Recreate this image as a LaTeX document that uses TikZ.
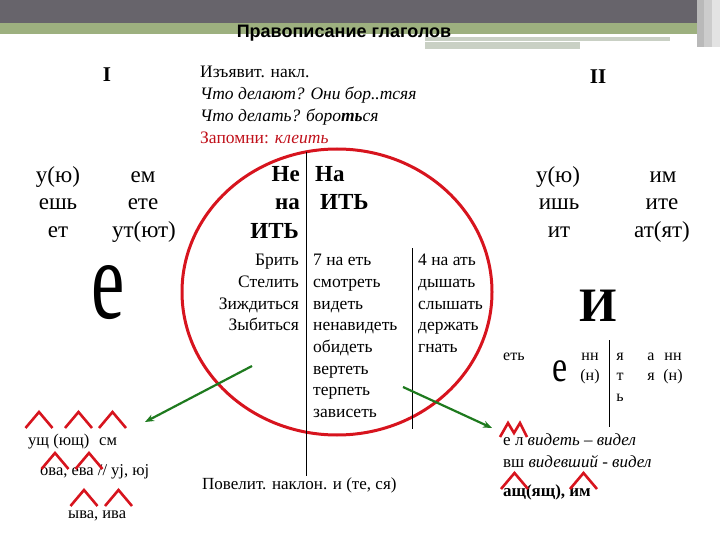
\documentclass[tikz,border=0pt]{standalone}
\usepackage{fontspec}
\setmainfont{Liberation Serif}
\newfontfamily\headfont{Liberation Sans}
\usetikzlibrary{arrows.meta}

\definecolor{bandgray}{HTML}{67646B}
\definecolor{bandgreen}{HTML}{9DB07F}
\definecolor{bargray}{HTML}{C9D0C4}
\definecolor{ringred}{HTML}{D7141E}
\definecolor{notered}{HTML}{C0101A}
\definecolor{arrowgreen}{HTML}{1E7A1E}
\newcommand{\fsz}[1]{\fontsize{#1}{#1}\selectfont}

\tikzset{
  txt/.style={inner sep=0pt, font=\fsz{17.5}},
  endg/.style={inner sep=0pt, font=\fsz{23}},
  boldg/.style={inner sep=0pt, font=\fsz{23}\bfseries},
  small/.style={inner sep=0pt, font=\fsz{16}},
  hatline/.style={draw=ringred, line width=2.6pt},
  greenarrow/.style={draw=arrowgreen, line width=2.2pt, -{Stealth[length=9pt,width=7pt]}}
}

\begin{document}
\begin{tikzpicture}[x=1pt,y=-1pt]
\useasboundingbox (0,0) rectangle (720,540);

% Header
\fill [bandgray] (0,0) rectangle (697,23);
\fill [bandgreen] (0,23) rectangle (697,34);
\fill [bargray] (425,37) rectangle (670,41);
\fill [bargray] (425,42) rectangle (580,49);
\fill [gray!55] (697,0) rectangle (704,47);
\fill [gray!40] (704,0) rectangle (712,47);
\fill [gray!22] (712,0) rectangle (720,47);
\node [inner sep=0pt, anchor=base, font=\headfont\bfseries\fsz{18}] (title) at (344,37.5) {Правописание глаголов};

% Conjugation numbers
\node [inner sep=0pt, font=\fsz{21}\bfseries] (conjI) at (107,75) {I};
\node [inner sep=0pt, font=\fsz{21}\bfseries] (conjII) at (598,77) {II};

% Indicative mood notes
\node [txt, anchor=mid west] (mood) at (200,75) {Изъявит. накл.};
\node [txt, anchor=mid west] (askA) at (200,97) {\itshape Что делают? Они бор..тсяя};
\node [txt, anchor=mid west] (askB) at (200,119) {\itshape Что делать? боро\textbf{ть}ся};
\node [txt, anchor=mid west, text=notered] (remember) at (200,141) {Запомни: \textit{клеить}};

% Red ring
\draw [ringred, line width=3pt] (337,292) ellipse [x radius=155, y radius=143];

% Dividing lines
\draw [line width=1pt] (306,152) -- (306,476);
\draw [line width=1pt] (412,248) -- (412,429);
\draw [line width=1pt] (609,340) -- (609,427);

% Endings I
\node [endg, anchor=base] (iA) at (58,182.5) {у(ю)};
\node [endg, anchor=base] (iB) at (58,210) {ешь};
\node [endg, anchor=base] (iC) at (58,237.5) {ет};
\node [endg, anchor=base] (iD) at (143,182.5) {ем};
\node [endg, anchor=base] (iE) at (143,210) {ете};
\node [endg, anchor=base] (iF) at (144,237.5) {ут(ют)};

% Endings II
\node [endg, anchor=base] (iiA) at (558,182.5) {у(ю)};
\node [endg, anchor=base] (iiB) at (559,210) {ишь};
\node [endg, anchor=base] (iiC) at (559,237.5) {ит};
\node [endg, anchor=base] (iiD) at (663,182.5) {им};
\node [endg, anchor=base] (iiE) at (662,210) {ите};
\node [endg, anchor=base] (iiF) at (662,237.5) {ат(ят)};

% Inside the ring
\node [boldg, anchor=base east] (ne) at (300,182) {Не};
\node [boldg, anchor=base east] (na) at (300,210) {на};
\node [boldg, anchor=base east] (itL) at (299,238) {ИТЬ};
\node [boldg, anchor=base west] (naR) at (315,182) {На};
\node [boldg, anchor=base west] (itR) at (320,210) {ИТЬ};

\node [txt, anchor=mid east] (exA) at (299,263) {Брить};
\node [txt, anchor=mid east] (exB) at (299,285) {Стелить};
\node [txt, anchor=mid east] (exC) at (299,307) {Зиждиться};
\node [txt, anchor=mid east] (exD) at (299,328) {Зыбиться};

\node [txt, anchor=mid west] (etA) at (313,263) {7 на еть};
\node [txt, anchor=mid west] (etB) at (313,285) {смотреть};
\node [txt, anchor=mid west] (etC) at (313,307) {видеть};
\node [txt, anchor=mid west] (etD) at (313,328) {ненавидеть};
\node [txt, anchor=mid west] (etE) at (313,350) {обидеть};
\node [txt, anchor=mid west] (etF) at (313,372) {вертеть};
\node [txt, anchor=mid west] (etG) at (313,393) {терпеть};
\node [txt, anchor=mid west] (etH) at (313,415) {зависеть};

\node [txt, anchor=mid west] (atA) at (418,263) {4 на ать};
\node [txt, anchor=mid west] (atB) at (418,285) {дышать};
\node [txt, anchor=mid west] (atC) at (418,307) {слышать};
\node [txt, anchor=mid west] (atD) at (418,328) {держать};
\node [txt, anchor=mid west] (atE) at (418,350) {гнать};

% Big vowels
\node [inner sep=0pt] (bigE) at (108,293) {\scalebox{1}[1.5]{\fsz{75}е}};
\node [inner sep=0pt, font=\fsz{48}\bfseries] (bigI) at (598,306) {И};

% Participle suffixes
\node [small, anchor=mid west] (sfx) at (503,358) {еть};
\node [inner sep=0pt] (smallE) at (560,371) {\scalebox{1}[1.3]{\fsz{34}е}};
\node [small, anchor=mid] (nnA) at (590,358) {нн};
\node [small, anchor=mid] (nA) at (590,378) {(н)};
\node [small, anchor=mid] (yaA) at (620,358) {я};
\node [small, anchor=mid] (tA) at (620,378) {т};
\node [small, anchor=mid] (softA) at (620,399) {ь};
\node [small, anchor=mid] (aB) at (651,358) {а};
\node [small, anchor=mid] (yaB) at (651,378) {я};
\node [small, anchor=mid] (nnB) at (673,358) {нн};
\node [small, anchor=mid] (nB) at (673,378) {(н)};

% Bottom left
\node [small, anchor=mid west, font=\fsz{16.5}] (ush) at (28,443) {ущ (ющ)\hspace{0.6em}см};
\node [small, anchor=mid west, font=\fsz{16.5}] (ova) at (40,473) {ова, ева // уj, юj};
\node [small, anchor=mid west, font=\fsz{16.5}] (yva) at (68,516) {ыва, ива};

% Bottom middle
\node [txt, anchor=mid west, font=\fsz{17}] (imper) at (202,487) {Повелит. наклон. и (те, ся)};

% Bottom right
\node [txt, anchor=mid west, font=\fsz{17}] (past) at (503,443) {е л \textit{видеть – видел}};
\node [txt, anchor=mid west, font=\fsz{17}] (vsh) at (503,465) {вш \textit{видевший - видел}};
\node [txt, anchor=mid west, font=\fsz{17}\bfseries] (ash) at (503,494) {ащ(ящ), им};

% Red carets
\foreach \cx/\cy in {39/412, 78.5/412, 112.5/412, 55/453, 89/453, 84/490, 118.5/490, 514.5/473, 583.5/473}
  \draw [hatline] (\cx-13.5,\cy+16) -- (\cx,\cy) -- (\cx+13.5,\cy+16);
\draw [hatline] (500,437) -- (508,423) -- (514,433) -- (520,423) -- (527,437);

% Green arrows
\coordinate (gA) at (252,366);
\coordinate (gB) at (145,422);
\coordinate (gC) at (403,387);
\coordinate (gD) at (492,428);
\draw [greenarrow] (gA) -- (gB);
\draw [greenarrow] (gC) -- (gD);

\end{tikzpicture}
\end{document}
